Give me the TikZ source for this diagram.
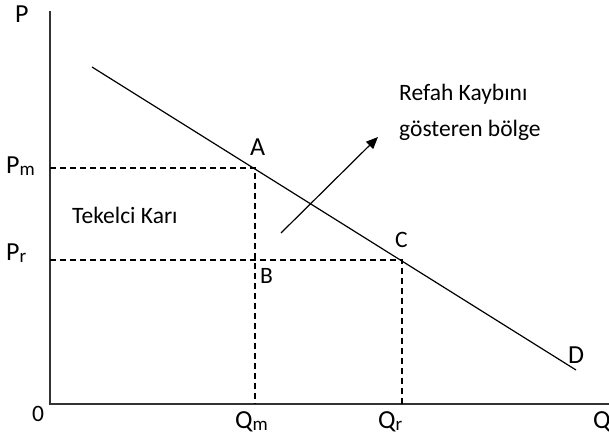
\documentclass[tikz,border=0pt]{standalone}
\usepackage{fontspec}
\setmainfont{Carlito}
\usetikzlibrary{arrows.meta}
\newcommand{\lsub}[1]{\raisebox{-2pt}{\fontsize{19}{22}\selectfont #1}}
\begin{document}
\begin{tikzpicture}[x=1pt,y=-1pt,
  lbl/.style={font=\fontsize{23.5}{28}\selectfont, inner sep=0pt, anchor=base west},
  axlbl/.style={font=\fontsize{26}{30}\selectfont, inner sep=0pt, anchor=base west},
  axisline/.style={line width=1.4pt, black!80},
  demand/.style={line width=1.2pt},
  guide/.style={line width=1.1pt, dash pattern=on 6pt off 4pt}]
\useasboundingbox (0,0) rectangle (609,439);
\coordinate (O) at (50,404);
\coordinate (Ytop) at (50,11);
\coordinate (Xend) at (612,404);
\coordinate (D1) at (92,67);
\coordinate (D2) at (576,370);
\coordinate (A) at (255,168);
\coordinate (C) at (402,260);
\coordinate (Pm) at (50,168);
\coordinate (Pr) at (50,260);
\coordinate (Qm) at (255,404);
\coordinate (Qr) at (402,404);
\coordinate (ArS) at (281,233);
\coordinate (ArE) at (378,137);
\draw[axisline] (Ytop) -- (O) -- (Xend);
\draw[demand] (D1) -- (D2);
\draw[guide] (Pm) -- (A) -- (Qm);
\draw[guide] (Pr) -- (C) -- (Qr);
\draw[demand, -{Triangle[length=12pt,width=10pt]}] (ArS) -- (ArE);
\node[axlbl] (lP) at (15,22) {P};
\node[axlbl] (lPm) at (6,173) {P\lsub{m}};
\node[axlbl] (lPr) at (6,260) {P\lsub{r}};
\node[lbl] (l0) at (32,421) {0};
\node[axlbl] (lQm) at (235,428) {Q\lsub{m}};
\node[axlbl] (lQr) at (378,428) {Q\lsub{r}};
\node[axlbl] (lQ) at (593,428) {Q};
\node[axlbl] (lA) at (250,155) {A};
\node[lbl] (lB) at (260,283) {B};
\node[lbl] (lC) at (395,247) {C};
\node[axlbl] (lD) at (568,363) {D};
\node[lbl] (tk) at (72,223) {Tekelci Karı};
\node[lbl] (rk1) at (399,100) {Refah Kaybını};
\node[lbl] (rk2) at (399,136) {gösteren bölge};
\end{tikzpicture}
\end{document}
